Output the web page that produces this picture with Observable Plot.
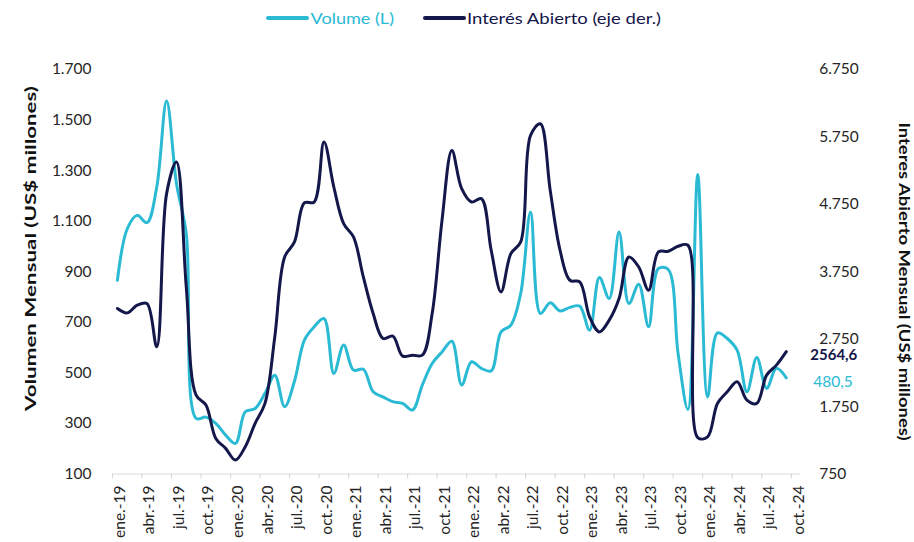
<!DOCTYPE html>
<html><head><meta charset="utf-8">
<script src="https://cdn.jsdelivr.net/npm/d3@7"></script>
<script src="https://cdn.jsdelivr.net/npm/@observablehq/plot@0.6"></script>
<style>
body{margin:0;background:#fff;font-family:Lato,"Open Sans",sans-serif;}
#chart{width:914px;height:542px;overflow:hidden;background:#fff}
svg{display:block}
</style></head><body><div id="chart"></div>
<script>
const months = [
 "ene.-19","feb.-19","mar.-19","abr.-19","may.-19","jun.-19","jul.-19","ago.-19","sep.-19","oct.-19","nov.-19","dic.-19",
 "ene.-20","feb.-20","mar.-20","abr.-20","may.-20","jun.-20","jul.-20","ago.-20","sep.-20","oct.-20","nov.-20","dic.-20",
 "ene.-21","feb.-21","mar.-21","abr.-21","may.-21","jun.-21","jul.-21","ago.-21","sep.-21","oct.-21","nov.-21","dic.-21",
 "ene.-22","feb.-22","mar.-22","abr.-22","may.-22","jun.-22","jul.-22","ago.-22","sep.-22","oct.-22","nov.-22","dic.-22",
 "ene.-23","feb.-23","mar.-23","abr.-23","may.-23","jun.-23","jul.-23","ago.-23","sep.-23","oct.-23","nov.-23","dic.-23",
 "ene.-24","feb.-24","mar.-24","abr.-24","may.-24","jun.-24","jul.-24","ago.-24","sep.-24"];
const volume = [
 866,1070,1123,1094,1235,1575,1250,1050,320,325,300,254,
 221,346,359,419,491,366,467,629,682,715,498,610,
 511,514,425,405,386,379,353,452,537,583,625,452,
 544,518,508,662,689,814,1136,735,777,745,759,764,
 669,877,794,1057,774,851,682,913,909,577,355,1285,
 405,658,636,590,425,561,439,518,480.5];
const openInterest = [
 3205,3140,3254,3279,2636,4909,5377,3525,1920,1772,1278,1130,
 957,1155,1501,1797,2784,3969,4192,4770,4784,5673,5007,4464,
 4266,3673,3130,2760,2794,2498,2513,2513,3130,4513,5550,4982,
 4784,4834,4069,3451,4019,4192,5772,5945,4957,4069,3624,3599,
 3081,2858,3032,3353,3969,3821,3476,4044,4054,4128,4143,1290,
 1300,1797,1969,2118,1847,1797,2217,2365,2564.6];
const tickLabels = [
 "ene.-19","abr.-19","jul.-19","oct.-19","ene.-20","abr.-20","jul.-20","oct.-20",
 "ene.-21","abr.-21","jul.-21","oct.-21","ene.-22","abr.-22","jul.-22","oct.-22",
 "ene.-23","abr.-23","jul.-23","oct.-23","ene.-24","abr.-24","jul.-24","oct.-24"];
const volTicks = [100,300,500,700,900,1100,1300,1500,1700];
const oiTicks = [750,1750,2750,3750,4750,5750,6750];
const seriesNames = ["Volume (L)","Interés Abierto (eje der.)"];
const leftTitle = "Volumen Mensual (US$ millones)";
const rightTitle = "Interes Abierto Mensual (US$ millones)";

const CYAN = "#2bbad4", NAVY = "#14174a", INK = "#262626";
const locale = d3.formatLocale({decimal:",", thousands:".", grouping:[3], currency:["$",""]});
const fmtInt = locale.format(",d");
const fmtDec = locale.format(".1f");
const toVol = v => 100 + (v - 750) * 1600 / 6000;
const fromVol = v => 750 + (v - 100) * 6000 / 1600;

const rows = months.map((m, i) => ({i, m, vol: volume[i], oi: openInterest[i]}));
const last = rows[rows.length - 1];
const tickIdx = tickLabels.map((d, k) => 3 * k);

const chart = document.getElementById("chart");

// legend (above the plot svg)
const LH = 36;
const leg = d3.select(chart).append("svg").attr("width", 914).attr("height", LH)
  .style("font-family", "Lato, sans-serif");
const legItems = [
  {name: seriesNames[0], color: CYAN, x0: 268, x1: 307, tx: 310.5, tl: 83.5},
  {name: seriesNames[1], color: NAVY, x0: 425, x1: 464, tx: 467, tl: 194}
];
legItems.forEach(it => {
  leg.append("line").attr("x1", it.x0).attr("x2", it.x1).attr("y1", 18).attr("y2", 18)
    .attr("stroke", it.color).attr("stroke-width", 4).attr("stroke-linecap", "round");
  leg.append("text").attr("x", it.tx).attr("y", 18).attr("dy", "0.35em")
    .attr("fill", it.color).attr("font-size", 16).attr("textLength", it.tl)
    .attr("lengthAdjust", "spacingAndGlyphs").text(it.name);
});

const H = 506;
const plot = Plot.plot({
  width: 914, height: H,
  marginLeft: 112, marginRight: 123.3, marginTop: 33, marginBottom: 68.5,
  x: {type: "linear", domain: [0, 69], axis: null},
  y: {domain: [100, 1700], axis: null},
  style: {fontFamily: "Lato, sans-serif", fontSize: "15px", color: INK, background: "#fff", overflow: "visible"},
  marks: [
    Plot.ruleY([100], {x1: 0, x2: 69.95, stroke: "#d9d9d9", strokeWidth: 1.2}),
    Plot.ruleX(tickIdx, {x: d => d, y1: 100, y2: 80, stroke: "#d9d9d9", strokeWidth: 1.2}),
    Plot.text(tickLabels, {x: (d, k) => tickIdx[k], y: 100, text: d => d, rotate: -90,
      textAnchor: "end", dx: 7.5, dy: 11.5, fontSize: 15.5, fill: INK}),
    Plot.axisY(volTicks, {anchor: "left", tickSize: 0, tickPadding: 21, tickFormat: fmtInt,
      label: null, fontSize: 15.5, fill: INK}),
    Plot.axisY(oiTicks.map(toVol), {anchor: "right", tickSize: 0, tickPadding: 28,
      tickFormat: v => fmtInt(Math.round(fromVol(v))), label: null, fontSize: 15.5, fill: INK}),
    Plot.text([leftTitle], {frameAnchor: "left", textAnchor: "middle", text: d => d, rotate: -90,
      dx: -82, dy: -23.25, fontWeight: "bold", fontSize: 16, fill: "#111"}),
    Plot.text([rightTitle], {frameAnchor: "right", textAnchor: "middle", text: d => d, rotate: 90,
      dx: 112.3, dy: 9.75, fontWeight: "bold", fontSize: 15.5, fill: "#111"}),
    Plot.line(rows, {x: d => d.i + 0.5, y: "vol", stroke: CYAN, strokeWidth: 3, curve: "catmull-rom"}),
    Plot.line(rows, {x: d => d.i + 0.5, y: d => toVol(d.oi), stroke: NAVY, strokeWidth: 3, curve: "catmull-rom"}),
    Plot.text([last], {x: d => d.i + 0.5, y: d => toVol(d.oi), text: d => fmtDec(d.oi),
      dx: 24, dy: 4, textAnchor: "start", fontWeight: "bold", fontSize: 15, fill: NAVY}),
    Plot.text([last], {x: d => d.i + 0.5, y: d => d.vol, text: d => fmtDec(d.vol),
      dx: 27, dy: 4, textAnchor: "start", fontSize: 15.5, fill: CYAN})
  ]
});
chart.appendChild(plot);
// stretch axis titles to the reference's length
const titleLen = new Map([[leftTitle, 325], [rightTitle, 318]]);
d3.select(plot).selectAll("text").filter(function(){ return titleLen.has(this.textContent); })
  .each(function(){
    this.setAttribute("textLength", titleLen.get(this.textContent));
    this.setAttribute("lengthAdjust", "spacingAndGlyphs");
  });
</script></body></html>
